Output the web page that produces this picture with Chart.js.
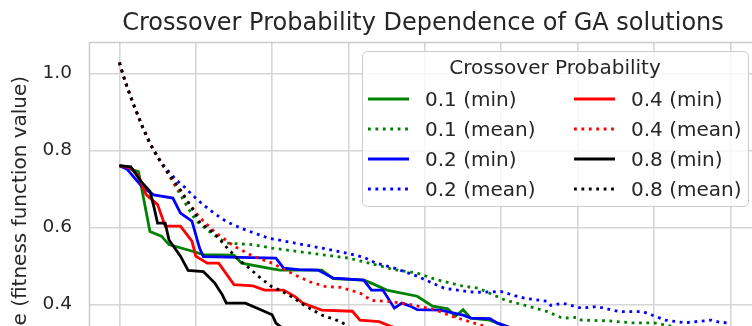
<!DOCTYPE html>
<html>
<head>
<meta charset="utf-8">
<script src="https://cdn.jsdelivr.net/npm/chart.js@4.4.1/dist/chart.umd.min.js"></script>
<style>
  html, body { margin: 0; padding: 0; background: #fff; overflow: hidden; }
  #wrap { position: relative; width: 752px; height: 326px; overflow: hidden; }
  #wrap canvas { position: absolute; left: 0; top: 0; }
</style>
</head>
<body>
<div id="wrap"><canvas id="chart"></canvas></div>
<script>
// ===== DATA: [generation, value] =====
const probabilities = ['0.1', '0.2', '0.4', '0.8'];

const min01 = [[0,.760],[5,.745],[8,.589],[11,.577],[13,.555],[18,.541],[22,.529],[30,.528],[32,.507],[39,.494],[42,.489],[53,.489],[56,.467],[64,.463],[66,.455],[70,.437],[78,.421],[82,.395],[86,.388],[88,.369],[90,.386],[92,.364],[97,.359],[99,.351],[105,.33],[120,.31],[140,.29],[159,.28]];
const min02 = [[0,.760],[2,.751],[6,.705],[9,.684],[14,.676],[16,.637],[19,.616],[21,.546],[22,.524],[41,.520],[43,.494],[47,.490],[52,.489],[56,.468],[64,.463],[66,.437],[69,.437],[72,.390],[74,.403],[76,.396],[78,.386],[84,.385],[90,.372],[92,.364],[97,.363],[99,.351],[105,.33],[120,.31],[140,.30],[159,.29]];
const min04 = [[0,.760],[3,.754],[5,.733],[7,.685],[10,.659],[12,.603],[16,.603],[19,.564],[20,.525],[23,.507],[26,.507],[30,.451],[35,.448],[38,.437],[43,.437],[46,.420],[48,.403],[53,.385],[61,.382],[63,.359],[68,.355],[71,.343],[80,.32],[100,.30],[130,.28],[159,.27]];
const min08 = [[0,.760],[3,.757],[6,.715],[8,.694],[9,.655],[10,.611],[12,.611],[13,.567],[16,.525],[18,.488],[22,.485],[25,.455],[27,.424],[28,.403],[33,.403],[37,.386],[40,.373],[41,.351],[45,.32],[60,.28],[90,.25],[159,.22]];

const mean01 = [[0,1.028],[1,.995],[2,.965],[3,.938],[4,.912],[6,.862],[8,.818],[10,.783],[12,.752],[14,.718],[16,.684],[18,.650],[20,.618],[23,.593],[26,.572],[28,.559],[35,.555],[40,.546],[46,.538],[53,.529],[60,.520],[67,.503],[72,.490],[78,.481],[83,.464],[90,.447],[94,.442],[98,.424],[101,.411],[106,.398],[112,.381],[116,.364],[120,.366],[121,.359],[128,.357],[134,.352],[140,.352],[147,.338],[153,.33],[159,.325]];
const mean02 = [[0,1.028],[1,.995],[2,.965],[3,.938],[4,.912],[6,.862],[8,.818],[10,.783],[12,.755],[15,.722],[17,.705],[19,.685],[22,.658],[25,.635],[28,.615],[32,.597],[39,.572],[46,.559],[53,.546],[60,.532],[64,.522],[67,.508],[72,.494],[78,.473],[82,.455],[85,.442],[89,.436],[93,.431],[100,.433],[103,.424],[106,.416],[112,.408],[113,.397],[116,.403],[121,.390],[125,.394],[131,.381],[137,.381],[141,.366],[143,.359],[148,.352],[155,.359],[157,.354],[159,.352]];
const mean04 = [[0,1.028],[1,.995],[2,.965],[3,.938],[4,.912],[6,.862],[8,.818],[10,.783],[12,.752],[15,.706],[18,.665],[21,.626],[25,.588],[30,.551],[35,.525],[40,.507],[46,.476],[50,.458],[54,.446],[58,.444],[63,.429],[66,.410],[71,.407],[77,.398],[83,.385],[87,.369],[92,.354],[97,.339],[110,.32],[130,.30],[159,.28]];
const mean08 = [[0,1.028],[1,.995],[2,.965],[3,.938],[4,.912],[6,.862],[8,.818],[10,.783],[12,.752],[16,.697],[19,.650],[21,.614],[25,.583],[28,.549],[31,.518],[34,.494],[37,.468],[40,.445],[42,.437],[45,.420],[49,.394],[53,.372],[58,.355],[60,.341],[68,.32],[90,.29],[120,.26],[159,.24]];

const minSeries = [min01, min02, min04, min08];
const meanSeries = [mean01, mean02, mean04, mean08];

const xTicks = [0, 20, 40, 60, 80, 100, 120, 140, 160];
const yTicks = [0.2, 0.4, 0.6, 0.8, 1.0];

const chartTitle = 'Crossover Probability Dependence of GA solutions';
const yLabel = 'Value (fitness function value)';
const legendTitle = 'Crossover Probability';

// ===== STYLE =====
const FONT = "'DejaVu Sans', sans-serif";
const TEXT = '#262626';
const GRID = '#d6d6d6';
const lineColors = ['#008000', '#0000ff', '#ff0000', '#000000'];
const LW = 2.8;

// ===== LAYOUT (page pixels) =====
const AREA_TOP = 42, AREA_LEFT = 89, AREA_RIGHT = 757;
const LABEL_END = 76;          // where the rotated y label ends at the top
const PX_PER_UNIT = 385;
const Y_TOP = 1.0813;

const measure = document.createElement('canvas').getContext('2d');
measure.font = `20px ${FONT}`;
const labelW = measure.measureText(yLabel).width;
const areaBottom = Math.round(2 * (LABEL_END + labelW / 2) - AREA_TOP);
const yMin = Y_TOP - (areaBottom - AREA_TOP) / PX_PER_UNIT;

const canvas = document.getElementById('chart');
canvas.width = AREA_RIGHT;
canvas.height = areaBottom + 40;

// ===== DATASETS =====
const datasets = [];
probabilities.forEach((p, i) => {
    datasets.push({
        label: `${p} (min)`,
        data: minSeries[i].map(([x, y]) => ({ x, y })),
        borderColor: lineColors[i],
        borderWidth: LW,
        pointRadius: 0,
        tension: 0
    });
    datasets.push({
        label: `${p} (mean)`,
        data: meanSeries[i].map(([x, y]) => ({ x, y })),
        borderColor: lineColors[i],
        borderWidth: LW,
        borderDash: [LW, LW * 1.65],
        borderCapStyle: 'butt',
        pointRadius: 0,
        tension: 0
    });
});
// later series on top, like matplotlib
datasets.forEach((ds, i) => { ds.order = datasets.length - i; });

// ===== PLUGINS =====
const spines = {
    id: 'spines',
    beforeDatasetsDraw(chart) {
        const { ctx, chartArea: a } = chart;
        ctx.save();
        ctx.strokeStyle = '#cccccc';
        ctx.lineWidth = 1.5;
        ctx.beginPath();
        ctx.moveTo(a.left + 0.5, a.bottom);
        ctx.lineTo(a.left + 0.5, a.top + 0.5);
        ctx.lineTo(a.right, a.top + 0.5);
        ctx.stroke();
        ctx.restore();
    }
};

const boxLegend = {
    id: 'boxLegend',
    afterDraw(chart) {
        const ctx = chart.ctx;
        ctx.save();
        ctx.beginPath();
        ctx.roundRect(362.5, 51.5, 386, 155, 5);
        ctx.fillStyle = 'rgba(255,255,255,0.8)';
        ctx.fill();
        ctx.strokeStyle = '#cccccc';
        ctx.lineWidth = 1;
        ctx.stroke();

        ctx.fillStyle = TEXT;
        ctx.font = `20px ${FONT}`;
        ctx.textAlign = 'center';
        ctx.textBaseline = 'middle';
        ctx.fillText(legendTitle, 555, 69);

        chart.data.datasets.forEach((ds, i) => {
            const col = Math.floor(i / 4), row = i % 4;
            const hx = [368, 574][col], tx = [425, 631][col];
            const y = 99 + row * 30;
            ctx.strokeStyle = ds.borderColor;
            ctx.lineWidth = ds.borderWidth;
            ctx.lineCap = 'butt';
            ctx.setLineDash(ds.borderDash || []);
            ctx.beginPath();
            ctx.moveTo(hx, y);
            ctx.lineTo(hx + 41, y);
            ctx.stroke();
            ctx.setLineDash([]);
            ctx.textAlign = 'left';
            ctx.fillText(ds.label, tx, y + 2);
        });
        ctx.restore();
    }
};

// ===== CHART =====
new Chart(canvas, {
    type: 'line',
    data: { datasets },
    plugins: [spines, boxLegend],
    options: {
        responsive: false,
        animation: false,
        devicePixelRatio: 1,
        layout: { padding: 0 },
        plugins: {
            legend: { display: false },
            tooltip: { enabled: false },
            title: {
                display: true,
                text: chartTitle,
                fullSize: false,
                color: TEXT,
                font: { family: FONT, size: 24, weight: 'normal' },
                padding: { top: 9, bottom: 4.2 }
            }
        },
        scales: {
            x: {
                type: 'linear',
                min: -7.95,
                max: 166.95,
                afterBuildTicks: s => { s.ticks = xTicks.map(v => ({ value: v })); },
                afterFit: s => { s.height = 40; },
                ticks: { display: false },
                grid: { color: GRID, lineWidth: 1.6, drawTicks: false },
                border: { display: false }
            },
            y: {
                type: 'linear',
                min: yMin,
                max: Y_TOP,
                afterBuildTicks: s => { s.ticks = yTicks.map(v => ({ value: v })); },
                afterFit: s => { s.width = AREA_LEFT; },
                ticks: {
                    color: TEXT,
                    font: { family: FONT, size: 18.5 },
                    padding: 17,
                    callback: v => v.toFixed(1)
                },
                grid: { color: GRID, lineWidth: 1.6, drawTicks: false },
                border: { display: false },
                title: {
                    display: true,
                    text: yLabel,
                    color: TEXT,
                    font: { family: FONT, size: 20 },
                    padding: { top: 9, bottom: 0 }
                }
            }
        }
    }
});
</script>
</body>
</html>
